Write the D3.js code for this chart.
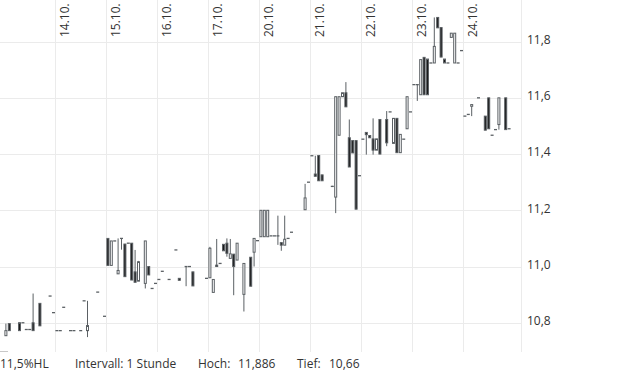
<!DOCTYPE html>
<html>
<head>
<meta charset="utf-8">
<script src="https://cdnjs.cloudflare.com/ajax/libs/d3/7.8.5/d3.min.js"></script>
<style>
  html, body { margin: 0; padding: 0; background: #fff; }
  svg { display: block; font-family: "Open Sans", "Noto Sans", sans-serif; }
</style>
</head>
<body>
<div id="chart"></div>
<script>
// hourly slots (15 per trading day), day labels at day starts
const dayLabels = ['14.10.', '15.10.', '16.10.', '17.10.', '20.10.', '21.10.', '22.10.', '23.10.', '24.10.']
const priceTicks = [10.8, 11.0, 11.2, 11.4, 11.6, 11.8]

const slot  = [1, 2, 5, 6, 7, 8, 9, 11, 14, 15, 16, 17, 18, 20, 21, 23, 24, 25, 28, 30,
  31, 32, 33, 34, 35, 36, 37, 38, 39, 40, 42, 43, 44, 45, 46, 47, 49, 51, 52, 54, 55, 56,
  60, 61, 62, 63, 64, 65, 66, 67, 68, 69, 71, 73, 74, 75,
  76, 77, 78, 79, 80, 81, 82, 83, 84, 85, 89, 90,
  91, 92, 93, 94, 97, 98, 99, 100, 101, 102, 103, 104, 105,
  106, 107, 108, 109, 110, 111, 113, 114, 115, 116, 117, 118, 119, 120,
  121, 122, 123, 124, 125, 126, 127, 128, 129, 130, 131, 132, 133, 134, 135,
  136, 137, 138, 140, 142, 143, 144, 145, 146, 148, 149]
const open  = [10.754, 10.797, 10.80, 10.80, 10.776, 10.776, 10.80, 10.869, 10.895, 10.836, 10.772, 10.772, 10.855, 10.772, 10.772, 10.772, 10.878, 10.772, 10.909, 10.823,
  11.10, 11.004, 11.091, 10.974, 11.10, 11.08, 11.083, 11.083, 10.981, 10.948, 10.94, 11.0, 10.922, 10.94, 10.954, 10.983, 10.954, 11.059, 10.958, 11.0, 11.0, 10.981,
  10.958, 10.96, 10.908, 11.005, 11.011, 11.079, 11.083, 11.029, 11.044, 11.023, 10.901, 11.033, 11.051, 11.092,
  11.106, 11.106, 11.106, 11.109, 11.109, 11.109, 11.085, 11.076, 11.10, 11.122, 11.202, 11.30,
  11.394, 11.329, 11.395, 11.326, 11.287, 11.247, 11.467, 11.604, 11.618, 11.458, 11.448, 11.448, 11.323,
  11.453, 11.477, 11.466, 11.454, 11.414, 11.523, 11.523, 11.55, 11.438, 11.527, 11.405, 11.453, 11.49, 11.55,
  11.647, 11.647, 11.611, 11.744, 11.738, 11.724, 11.724, 11.886, 11.85, 11.738, 11.724, 11.815, 11.724, 11.724, 11.768,
  11.535, 11.541, 11.57, 11.60, 11.535, 11.60, 11.467, 11.487, 11.505, 11.60, 11.49]
const high  = [10.797, 10.797, 10.80, 10.80, 10.776, 10.776, 10.904, 10.869, 10.895, 10.836, 10.772, 10.772, 10.855, 10.772, 10.772, 10.772, 10.878, 10.878, 10.909, 10.823,
  11.10, 11.091, 11.091, 11.10, 11.10, 11.08, 11.083, 11.083, 11.059, 11.02, 11.091, 11.0, 10.922, 10.94, 10.954, 10.983, 10.954, 11.059, 10.958, 11.0, 11.0, 10.981,
  10.958, 11.07, 10.954, 11.098, 11.011, 11.079, 11.10, 11.098, 11.044, 11.083, 11.011, 11.033, 11.10, 11.092,
  11.20, 11.20, 11.20, 11.109, 11.109, 11.181, 11.085, 11.181, 11.10, 11.122, 11.294, 11.30,
  11.394, 11.394, 11.395, 11.326, 11.287, 11.604, 11.604, 11.618, 11.656, 11.523, 11.448, 11.448, 11.323,
  11.453, 11.477, 11.466, 11.527, 11.454, 11.523, 11.553, 11.55, 11.527, 11.527, 11.47, 11.453, 11.604, 11.55,
  11.647, 11.647, 11.736, 11.744, 11.738, 11.724, 11.886, 11.886, 11.85, 11.738, 11.724, 11.83, 11.83, 11.724, 11.768,
  11.535, 11.541, 11.576, 11.60, 11.535, 11.60, 11.467, 11.487, 11.60, 11.60, 11.49]
const low   = [10.754, 10.772, 10.772, 10.80, 10.776, 10.776, 10.772, 10.789, 10.895, 10.836, 10.772, 10.772, 10.855, 10.772, 10.772, 10.772, 10.878, 10.749, 10.909, 10.823,
  11.004, 11.004, 11.091, 10.974, 11.06, 10.964, 11.083, 10.952, 10.944, 10.948, 10.922, 10.97, 10.922, 10.94, 10.954, 10.983, 10.954, 11.059, 10.951, 10.93, 11.0, 10.931,
  10.958, 10.96, 10.908, 11.0, 11.011, 11.056, 11.035, 11.029, 10.898, 11.023, 10.84, 10.93, 11.0, 11.092,
  11.106, 11.106, 11.106, 11.109, 11.109, 11.077, 11.056, 11.076, 11.10, 11.122, 11.202, 11.30,
  11.394, 11.321, 11.305, 11.305, 11.283, 11.19, 11.467, 11.604, 11.568, 11.354, 11.404, 11.204, 11.323,
  11.453, 11.398, 11.458, 11.398, 11.414, 11.40, 11.428, 11.55, 11.438, 11.405, 11.405, 11.453, 11.49, 11.55,
  11.647, 11.589, 11.611, 11.611, 11.611, 11.724, 11.724, 11.849, 11.745, 11.724, 11.724, 11.815, 11.724, 11.724, 11.768,
  11.535, 11.541, 11.535, 11.60, 11.485, 11.49, 11.467, 11.487, 11.487, 11.487, 11.49]
const close = [10.772, 10.772, 10.772, 10.80, 10.776, 10.776, 10.772, 10.789, 10.895, 10.836, 10.772, 10.772, 10.855, 10.772, 10.772, 10.772, 10.878, 10.79, 10.909, 10.823,
  11.004, 11.091, 11.091, 10.986, 11.10, 10.964, 11.083, 10.952, 10.944, 11.017, 11.091, 10.97, 10.922, 10.94, 10.954, 10.983, 10.954, 11.059, 10.951, 11.0, 11.0, 10.931,
  10.958, 11.065, 10.954, 11.0, 11.011, 11.056, 11.047, 11.045, 11.0, 11.083, 11.011, 10.93, 11.10, 11.092,
  11.20, 11.20, 11.20, 11.109, 11.109, 11.109, 11.076, 11.097, 11.10, 11.122, 11.244, 11.30,
  11.394, 11.321, 11.305, 11.305, 11.283, 11.604, 11.604, 11.618, 11.568, 11.354, 11.404, 11.204, 11.323,
  11.453, 11.469, 11.458, 11.414, 11.454, 11.40, 11.44, 11.55, 11.527, 11.405, 11.47, 11.453, 11.604, 11.55,
  11.647, 11.647, 11.736, 11.611, 11.611, 11.724, 11.783, 11.849, 11.745, 11.724, 11.724, 11.83, 11.83, 11.724, 11.768,
  11.535, 11.541, 11.576, 11.60, 11.485, 11.49, 11.467, 11.487, 11.60, 11.487, 11.49]

const footerName = '11,5%HL'
const footerInterval = 'Intervall: 1 Stunde'
const footerHigh = '11,886'
const footerLow = '10,66'

const width = 620
const height = 372
const plotRight = 521
const plotBottom = 352
const slotsPerDay = 15
const firstDayStart = 15.5

const candles = slot.map((k, i) => ({ k, o: open[i], h: high[i], l: low[i], c: close[i] }))

const x = d3.scaleLinear().domain([0, 152.5]).range([2.5, plotRight])
const y = d3.scaleLinear().domain([10.696, 11.948]).range([plotBottom, 0])

const svg = d3.select('#chart').append('svg')
  .attr('width', width).attr('height', height)

const grid = svg.append('g').attr('shape-rendering', 'crispEdges')

// horizontal grid
grid.selectAll('line.h').data(priceTicks).join('line')
  .attr('class', 'h')
  .attr('x1', 0).attr('x2', plotRight)
  .attr('y1', d => Math.round(y(d)) + 0.5).attr('y2', d => Math.round(y(d)) + 0.5)
  .attr('stroke', '#ebebeb')

// vertical day grid
const dayPos = dayLabels.map((d, i) => firstDayStart + i * slotsPerDay)
grid.selectAll('line.v').data(dayPos).join('line')
  .attr('class', 'v')
  .attr('x1', d => Math.round(x(d)) + 0.5).attr('x2', d => Math.round(x(d)) + 0.5)
  .attr('y1', 0).attr('y2', plotBottom)
  .attr('stroke', '#ebebeb')

grid.append('line')
  .attr('x1', plotRight + 0.5).attr('x2', plotRight + 0.5)
  .attr('y1', 0).attr('y2', plotBottom)
  .attr('stroke', '#ebebeb')

grid.append('line')
  .attr('x1', 0).attr('x2', 8)
  .attr('y1', plotBottom - 0.5).attr('y2', plotBottom - 0.5)
  .attr('stroke', '#c8c8c8')

// day labels, rotated
svg.selectAll('text.day').data(dayLabels).join('text')
  .attr('class', 'day')
  .attr('transform', (d, i) => `translate(${x(dayPos[i]) + 14},37) rotate(-90)`)
  .attr('fill', '#333')
  .style('font-size', '12px')
  .text(d => d)

// price labels
svg.selectAll('text.price').data(priceTicks).join('text')
  .attr('class', 'price')
  .attr('x', 527)
  .attr('y', d => y(d) - 2)
  .attr('dy', '0.35em')
  .attr('fill', '#333')
  .style('font-size', '12px')
  .text(d => d3.format('.1f')(d).replace('.', ','))

// candles
const stroke = '#5b6064'
const cg = svg.append('g')
cg.selectAll('line.wick').data(candles.filter(d => d.h > d.l)).join('line')
  .attr('class', 'wick')
  .attr('x1', d => x(d.k)).attr('x2', d => x(d.k))
  .attr('y1', d => y(d.h)).attr('y2', d => y(d.l))
  .attr('stroke', stroke).attr('stroke-width', 1)

const bodies = candles.filter(d => Math.abs(y(d.o) - y(d.c)) >= 1.2)
cg.selectAll('rect.body').data(bodies).join('rect')
  .attr('class', 'body')
  .attr('x', d => x(d.k) - 1)
  .attr('width', 2)
  .attr('y', d => y(Math.max(d.o, d.c)))
  .attr('height', d => Math.abs(y(d.o) - y(d.c)))
  .attr('fill', d => d.c >= d.o ? '#fff' : '#1a1a1a')
  .attr('stroke', stroke).attr('stroke-width', 1)

const flats = candles.filter(d => Math.abs(y(d.o) - y(d.c)) < 1.2)
cg.selectAll('line.flat').data(flats).join('line')
  .attr('class', 'flat')
  .attr('x1', d => x(d.k) - 1.5).attr('x2', d => x(d.k) + 1.5)
  .attr('y1', d => y((d.o + d.c) / 2)).attr('y2', d => y((d.o + d.c) / 2))
  .attr('stroke', stroke).attr('stroke-width', 1.3)

// footer
const footer = svg.append('g').attr('fill', '#333').style('font-size', '12px')
footer.append('text').attr('x', 0).attr('y', 368).text(footerName)
footer.append('text').attr('x', 75).attr('y', 368).text(footerInterval)
footer.append('text').attr('x', 198).attr('y', 368).text('Hoch:')
footer.append('text').attr('x', 238).attr('y', 368).text(footerHigh)
footer.append('text').attr('x', 297).attr('y', 368).text('Tief:')
footer.append('text').attr('x', 329).attr('y', 368).text(footerLow)
</script>
</body>
</html>
